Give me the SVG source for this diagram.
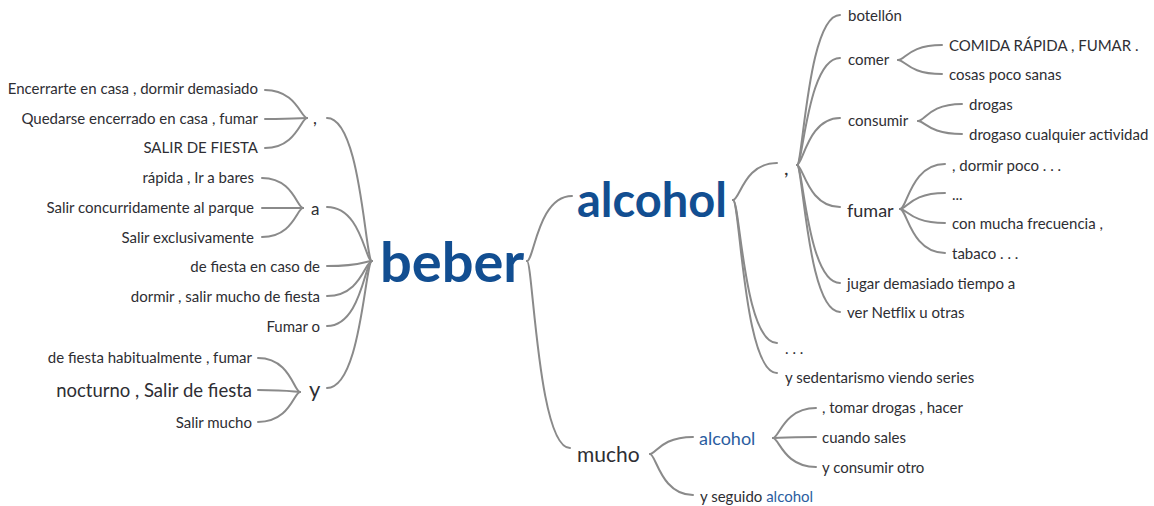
<svg xmlns="http://www.w3.org/2000/svg" width="1154" height="506" viewBox="0 0 1154 506">
<style>
.l{fill:none;stroke:#8a8a8a;stroke-width:2;stroke-linecap:round}
text{font-family:Lato,"Liberation Sans",sans-serif;fill:#2e2e33;font-size:15px}
.e{text-anchor:end}
.big{font-weight:bold;fill:#124e91}
.blue{fill:#2b5d9f}
.f17{font-size:17px}
.f18{font-size:18px}
.f185{font-size:18.5px}
.f20{font-size:20px}
.f21{font-size:21px}
.f22{font-size:22px}
.f47{font-size:47px}
.f56{font-size:56px}
</style>
<rect width="1154" height="506" fill="#fff"/>
<g id="connectors">
<path class="l" d="M372 261 C365 261 361 118 327 118"/>
<path class="l" d="M372 261 C365 261 361 207 327 207"/>
<path class="l" d="M372 261 C365 261 361 266 327 266"/>
<path class="l" d="M372 261 C365 261 361 296 327 296"/>
<path class="l" d="M372 261 C365 261 361 326 327 326"/>
<path class="l" d="M372 261 C365 261 361 388 327 388"/>
<path class="l" d="M307 118 C301 118 296 90 265 90"/>
<path class="l" d="M307 118 C301 118 296 119 265 119"/>
<path class="l" d="M307 118 C301 118 296 148 265 148"/>
<path class="l" d="M303 208 C297 208 293 178 262 178"/>
<path class="l" d="M303 208 C297 208 293 208 262 208"/>
<path class="l" d="M303 208 C297 208 293 237 262 237"/>
<path class="l" d="M300 392 C294 392 290 358 258 358"/>
<path class="l" d="M300 392 C294 392 290 390 258 390"/>
<path class="l" d="M300 392 C294 392 290 422 258 422"/>
<path class="l" d="M527 261 C534 261 538 196 572 196"/>
<path class="l" d="M527 261 C533 261 538 448 570 448"/>
<path class="l" d="M733 200 C740 200 744 163 777 163"/>
<path class="l" d="M733 200 C740 200 744 343 777 343"/>
<path class="l" d="M733 200 C740 200 744 373 777 373"/>
<path class="l" d="M797 165 C803 165 808 15 840 15"/>
<path class="l" d="M797 165 C803 165 808 58 840 58"/>
<path class="l" d="M797 165 C803 165 808 118 840 118"/>
<path class="l" d="M797 165 C803 165 808 207 840 207"/>
<path class="l" d="M797 165 C803 165 808 283 840 283"/>
<path class="l" d="M797 165 C803 165 808 312 840 312"/>
<path class="l" d="M898 60 C905 60 909 45 942 45"/>
<path class="l" d="M898 60 C905 60 909 74 942 74"/>
<path class="l" d="M918 121 C925 121 929 104 962 104"/>
<path class="l" d="M918 121 C925 121 929 134 962 134"/>
<path class="l" d="M900 209 C907 209 911 164 945 164"/>
<path class="l" d="M900 209 C907 209 911 193 945 193"/>
<path class="l" d="M900 209 C907 209 911 223 945 223"/>
<path class="l" d="M900 209 C907 209 911 253 945 253"/>
<path class="l" d="M650 454 C656 454 661 437 693 437"/>
<path class="l" d="M650 454 C656 454 661 495 693 495"/>
<path class="l" d="M773 438 C779 438 784 408 816 408"/>
<path class="l" d="M773 438 C779 438 784 437 816 437"/>
<path class="l" d="M773 438 C779 438 784 467 816 467"/>
</g>
<g id="n-beber"><text class="big f56" x="380" y="282">beber</text></g>
<g id="n-l-comma"><text class="f17" x="313" y="124">,</text></g>
<g id="n-l1"><text class="e" x="258" y="94">Encerrarte en casa , dormir demasiado</text></g>
<g id="n-l2"><text class="e" x="258" y="124">Quedarse encerrado en casa , fumar</text></g>
<g id="n-l3"><text class="e" x="258" y="153">SALIR DE FIESTA</text></g>
<g id="n-l-a"><text class="f17" x="311" y="215">a</text></g>
<g id="n-l4"><text class="e" x="254" y="183">rápida , Ir a bares</text></g>
<g id="n-l5"><text class="e" x="254" y="213">Salir concurridamente al parque</text></g>
<g id="n-l6"><text class="e" x="254" y="243">Salir exclusivamente</text></g>
<g id="n-l7"><text class="e" x="320" y="272">de fiesta en caso de</text></g>
<g id="n-l8"><text class="e" x="320" y="302">dormir , salir mucho de fiesta</text></g>
<g id="n-l9"><text class="e" x="320" y="332">Fumar o</text></g>
<g id="n-l-y"><text class="f22" x="309" y="397">y</text></g>
<g id="n-l10"><text class="e" x="252" y="363">de fiesta habitualmente , fumar</text></g>
<g id="n-l11"><text class="e f185" x="252" y="397">nocturno , Salir de fiesta</text></g>
<g id="n-l12"><text class="e" x="252" y="428">Salir mucho</text></g>
<g id="n-alcohol"><text class="big f47" x="577" y="217">alcohol</text></g>
<g id="n-r-comma"><text class="f20" x="784" y="175">,</text></g>
<g id="n-botellon"><text x="848" y="21">botellón</text></g>
<g id="n-comer"><text x="848" y="65">comer</text></g>
<g id="n-comida"><text x="949" y="51">COMIDA RÁPIDA , FUMAR .</text></g>
<g id="n-cosas"><text x="949" y="80">cosas poco sanas</text></g>
<g id="n-consumir"><text x="848" y="126">consumir</text></g>
<g id="n-drogas"><text x="969" y="110">drogas</text></g>
<g id="n-drogaso"><text x="969" y="140">drogaso cualquier actividad</text></g>
<g id="n-fumar"><text class="f18" x="847" y="217">fumar</text></g>
<g id="n-f1"><text x="952" y="171">, dormir poco . . .</text></g>
<g id="n-f2"><text x="952" y="200">...</text></g>
<g id="n-f3"><text x="952" y="229">con mucha frecuencia ,</text></g>
<g id="n-f4"><text x="952" y="259">tabaco . . .</text></g>
<g id="n-jugar"><text x="847" y="289">jugar demasiado tiempo a</text></g>
<g id="n-netflix"><text x="847" y="318">ver Netflix u otras</text></g>
<g id="n-dots"><text x="785" y="354">. . .</text></g>
<g id="n-sedent"><text x="785" y="383">y sedentarismo viendo series</text></g>
<g id="n-mucho"><text class="f21" x="577" y="462">mucho</text></g>
<g id="n-alcohol2"><text class="blue f18" x="699" y="445">alcohol</text></g>
<g id="n-tomar"><text x="822" y="413">, tomar drogas , hacer</text></g>
<g id="n-cuando"><text x="822" y="443">cuando sales</text></g>
<g id="n-consumir2"><text x="822" y="473">y consumir otro</text></g>
<g id="n-seguido"><text x="700" y="502">y seguido <tspan class="blue">alcohol</tspan></text></g>
</svg>
